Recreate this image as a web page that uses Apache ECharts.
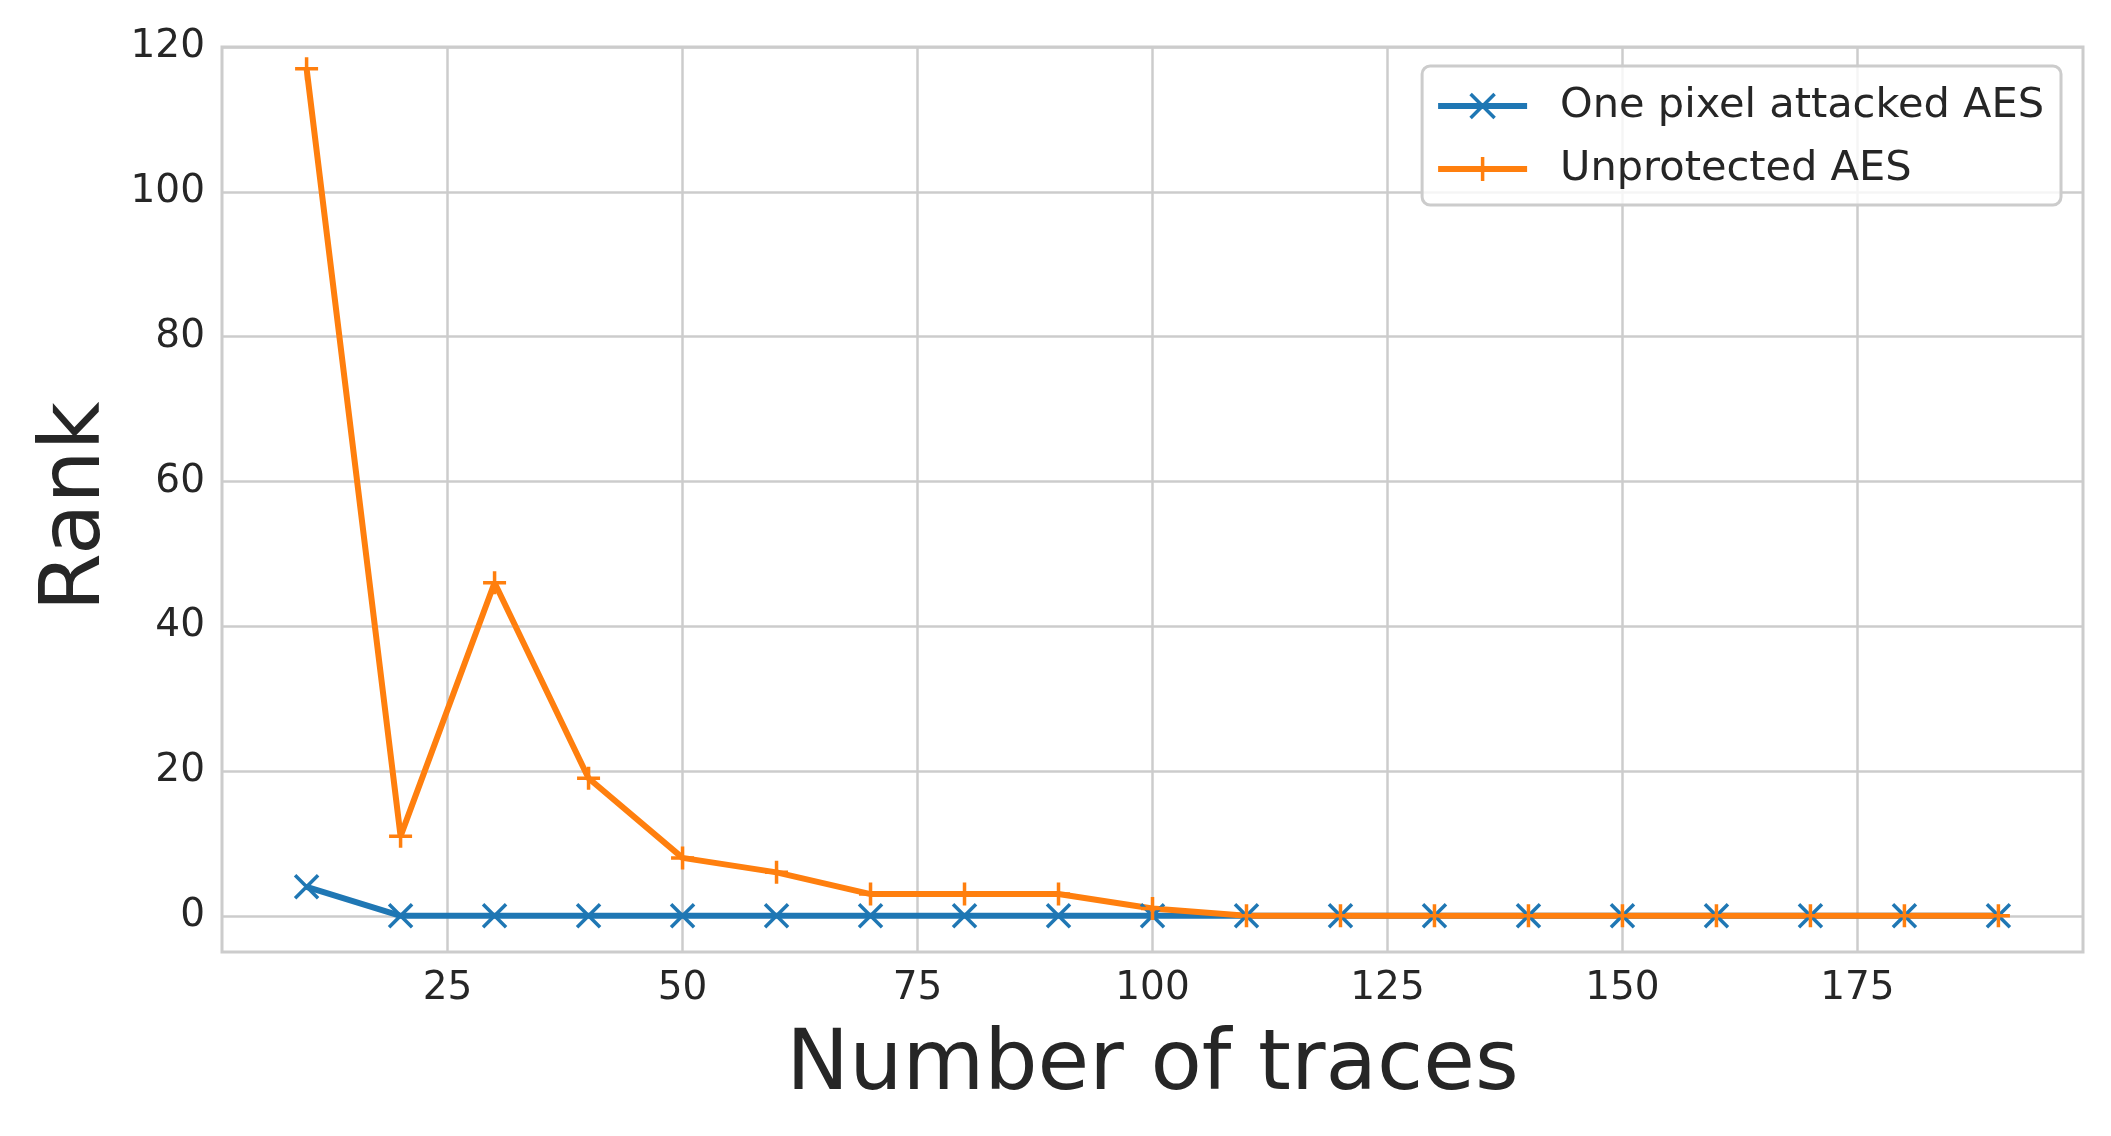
<!DOCTYPE html>
<html>
<head>
<meta charset="utf-8">
<title>Rank vs Number of traces</title>
<script src="https://cdn.jsdelivr.net/npm/echarts@6/dist/echarts.min.js"></script>
<style>
  html, body { margin: 0; padding: 0; background: #fff; }
  #chart { width: 2111px; height: 1136px; }
</style>
</head>
<body>
<div id="chart"></div>
<script>
// data
const traces = [10, 20, 30, 40, 50, 60, 70, 80, 90, 100, 110, 120, 130, 140, 150, 160, 170, 180, 190]
const onePixel = [4, 0, 0, 0, 0, 0, 0, 0, 0, 0, 0, 0, 0, 0, 0, 0, 0, 0, 0]
const unprotected = [117, 11, 46, 19, 8, 6, 3, 3, 3, 1, 0, 0, 0, 0, 0, 0, 0, 0, 0]
const xTicks = [25, 50, 75, 100, 125, 150, 175]
const yTicks = [0, 20, 40, 60, 80, 100, 120]

const BLUE = '#1f77b4'
const ORANGE = '#ff7f0e'
const TEXT = '#262626'
const GRID = '#cccccc'
const FONT = 'DejaVu Sans'

// stroked marker shapes (matplotlib 'x' and '+')
const xMarker = 'path://M0,0L10,10M10,0L0,10'
const plusMarker = 'path://M5,0L5,10M0,5L10,5'

const pairs = (ys) => traces.map((x, i) => [x, ys[i]])

const chart = echarts.init(document.getElementById('chart'))

chart.setOption({
  animation: false,
  backgroundColor: '#fff',
  textStyle: { fontFamily: FONT, color: TEXT },
  grid: {
    left: 222,
    right: 28,
    top: 47,
    bottom: 184,
    show: true,
    borderColor: GRID,
    borderWidth: 3,
    backgroundColor: 'transparent'
  },
  legend: {
    orient: 'vertical',
    right: 50,
    top: 66,
    padding: [17, 17, 13, 13],
    itemWidth: 89,
    itemHeight: 30,
    itemGap: 17,
    backgroundColor: 'rgba(255,255,255,0.8)',
    borderColor: GRID,
    borderWidth: 3,
    borderRadius: 8,
    lineStyle: { width: 6 },
    itemStyle: { borderWidth: 3.5 },
    textStyle: {
      fontFamily: FONT,
      fontSize: 41.5,
      color: TEXT,
      lineHeight: 46,
      padding: [0, 0, 0, 28]
    },
    data: ['One pixel attacked AES', 'Unprotected AES']
  },
  xAxis: {
    type: 'value',
    min: 1,
    max: 199,
    name: 'Number of traces',
    nameLocation: 'middle',
    nameGap: 73,
    nameTextStyle: { fontFamily: FONT, fontSize: 84, color: TEXT },
    axisLine: { show: false },
    axisTick: { show: false, customValues: xTicks },
    axisLabel: {
      customValues: xTicks,
      fontFamily: FONT,
      fontSize: 39,
      color: TEXT,
      margin: 17
    },
    splitLine: { show: true, lineStyle: { color: GRID, width: 2.5 } }
  },
  yAxis: {
    type: 'value',
    min: -5,
    max: 120,
    name: 'Rank',
    nameLocation: 'middle',
    nameGap: 100,
    nameTextStyle: { fontFamily: FONT, fontSize: 84, color: TEXT, padding: [0, 14, 0, 0] },
    axisLine: { show: false },
    axisTick: { show: false, customValues: yTicks },
    axisLabel: {
      customValues: yTicks,
      fontFamily: FONT,
      fontSize: 39,
      color: TEXT,
      margin: 17
    },
    splitLine: { show: true, lineStyle: { color: GRID, width: 2.5 } }
  },
  series: [
    {
      name: 'One pixel attacked AES',
      type: 'line',
      data: pairs(onePixel),
      symbol: xMarker,
      symbolSize: 23,
      showAllSymbol: true,
      lineStyle: { color: BLUE, width: 6 },
      itemStyle: { color: BLUE, borderColor: BLUE, borderWidth: 3.5 }
    },
    {
      name: 'Unprotected AES',
      type: 'line',
      data: pairs(unprotected),
      symbol: plusMarker,
      symbolSize: 23,
      showAllSymbol: true,
      lineStyle: { color: ORANGE, width: 6 },
      itemStyle: { color: ORANGE, borderColor: ORANGE, borderWidth: 3.5 }
    }
  ]
})

window.addEventListener('resize', () => chart.resize())
</script>
</body>
</html>
